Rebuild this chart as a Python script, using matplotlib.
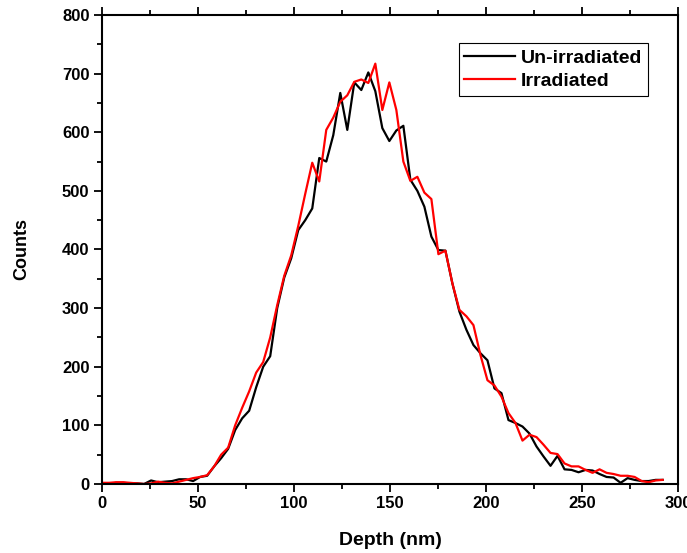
import matplotlib
matplotlib.use("Agg")
import matplotlib.pyplot as plt
from matplotlib.ticker import MultipleLocator

plt.rcParams['font.family'] = ['Liberation Sans', 'DejaVu Sans']
plt.rcParams['font.weight'] = 'bold'

# depth grid (nm)
depth = [0.0, 3.65, 7.3, 11.0, 14.6, 18.25, 21.9, 25.55, 29.2, 32.85,
         36.5, 40.15, 43.8, 47.45, 51.1, 54.75, 58.4, 62.05, 65.7, 69.35,
         73.0, 76.65, 80.3, 83.95, 87.6, 91.25, 94.9, 98.55, 102.2, 105.85,
         109.5, 113.15, 116.8, 120.45, 124.1, 127.75, 131.4, 135.05, 138.7, 142.35,
         146.0, 149.65, 153.3, 156.95, 160.6, 164.25, 167.9, 171.55, 175.2, 178.85,
         182.5, 186.15, 189.8, 193.45, 197.1, 200.75, 204.4, 208.05, 211.7, 215.35,
         219.0, 222.65, 226.3, 229.95, 233.6, 237.25, 240.9, 244.55, 248.2, 251.85,
         255.5, 259.15, 262.8, 266.45, 270.1, 273.75, 277.4, 281.05, 284.7, 288.35,
         292.0]

unirradiated = [0, 0, 2, 2, 1, 1, 0, 6, 3, 4,
                5, 8, 8, 5, 12, 14, 30, 44, 60, 92,
                112, 125, 165, 200, 218, 300, 352, 385, 433, 450,
                470, 556, 550, 595, 667, 604, 685, 672, 702, 670,
                607, 585, 603, 611, 519, 500, 473, 422, 399, 398,
                342, 294, 263, 237, 223, 211, 163, 155, 109, 104,
                98, 86, 64, 47, 31, 48, 25, 24, 20, 24,
                23, 17, 12, 11, 2, 10, 7, 5, 5, 7,
                7]

irradiated = [2, 2, 3, 3, 2, 1, 0, 1, 4, 2,
              1, 4, 7, 10, 12, 15, 30, 50, 62, 100,
              130, 158, 190, 208, 250, 305, 355, 390, 440, 495,
              548, 516, 604, 625, 652, 663, 686, 690, 684, 717,
              638, 685, 638, 550, 517, 524, 497, 486, 392, 398,
              342, 297, 286, 271, 220, 177, 168, 149, 121, 104,
              74, 84, 80, 67, 53, 51, 35, 30, 30, 24,
              19, 25, 19, 17, 14, 14, 12, 5, 3, 6,
              7]

fig = plt.figure(figsize=(6.87, 5.53), dpi=100)
ax = fig.add_axes([0.1485, 0.1248, 0.8384, 0.8481])

ax.plot(depth, unirradiated, color='black', lw=1.6, label='Un-irradiated')
ax.plot(depth, irradiated, color='red', lw=1.6, label='Irradiated')

ax.set_xlim(0, 300)
ax.set_ylim(0, 800)
ax.xaxis.set_major_locator(MultipleLocator(50))
ax.xaxis.set_minor_locator(MultipleLocator(25))
ax.yaxis.set_major_locator(MultipleLocator(100))
ax.yaxis.set_minor_locator(MultipleLocator(50))
ax.tick_params(which='both', direction='out', top=True, right=False,
               width=1.3, labelsize=12)
ax.tick_params(which='major', length=6, pad=3)
ax.tick_params(which='minor', length=3.5)
for s in ax.spines.values():
    s.set_linewidth(1.5)

ax.set_xlabel('Depth (nm)', fontsize=14, fontweight='bold', labelpad=15)
ax.set_ylabel('Counts', fontsize=13, fontweight='bold', labelpad=23)

leg = ax.legend(loc='upper right', bbox_to_anchor=(0.948, 0.94), borderaxespad=0,
                fancybox=False, edgecolor='black', framealpha=1,
                prop={'weight': 'bold', 'size': 14}, handlelength=2.6,
                handletextpad=0.3, borderpad=0.3, labelspacing=0.3)
leg.get_frame().set_linewidth(0.8)

fig.savefig('out.png', dpi=100)
